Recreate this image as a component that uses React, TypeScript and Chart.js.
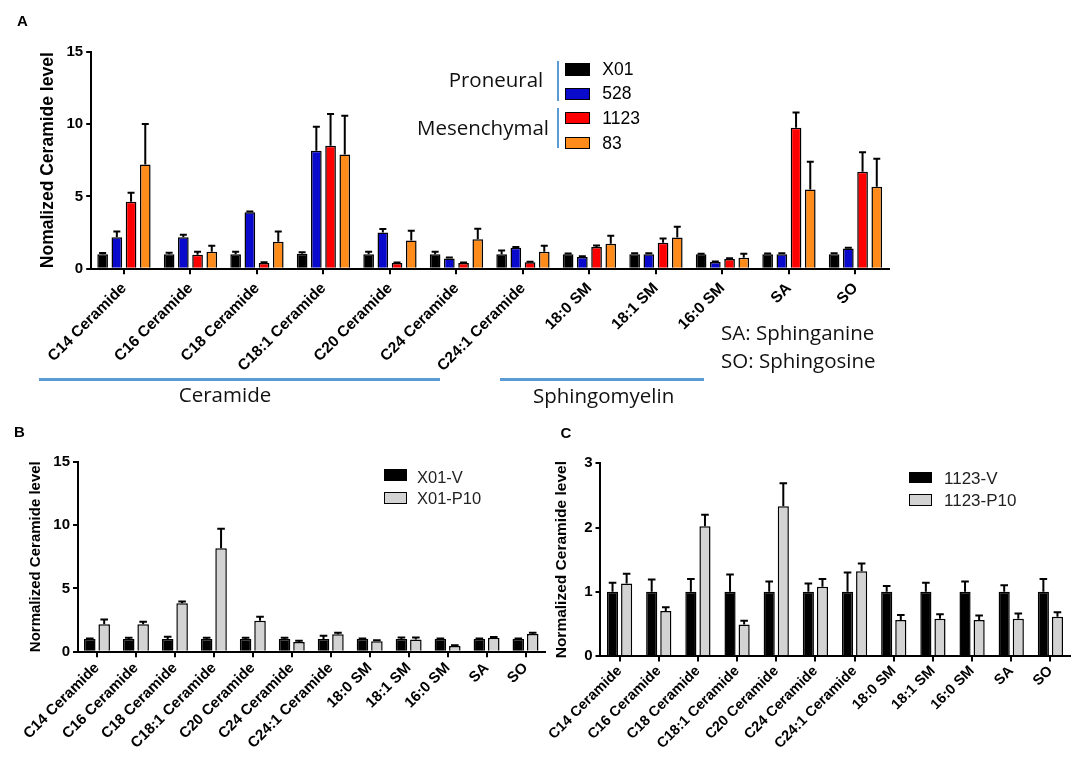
import React, { useEffect, useRef } from 'react';
import Chart from 'chart.js/auto';

// ---------- data ----------
const categories = [
  'C14 Ceramide', 'C16 Ceramide', 'C18 Ceramide', 'C18:1 Ceramide', 'C20 Ceramide',
  'C24 Ceramide', 'C24:1 Ceramide', '18:0 SM', '18:1 SM', '16:0 SM', 'SA', 'SO',
];

// Panel A
const seriesA = ['X01', '528', '1123', '83'];
const colorsA = ['#000000', '#0a0acc', '#ff0000', '#ff8c1a'];
const x01 = [1.0, 1.0, 1.0, 1.03, 1.0, 1.0, 1.0, 1.0, 1.0, 1.0, 1.0, 1.0];
const x01Err = [0.08, 0.1, 0.17, 0.1, 0.18, 0.17, 0.26, 0.05, 0.06, 0.03, 0.05, 0.06];
const s528 = [2.17, 2.17, 3.9, 8.16, 2.5, 0.71, 1.45, 0.81, 1.0, 0.46, 1.0, 1.4];
const s528Err = [0.4, 0.18, 0.05, 1.65, 0.25, 0.06, 0.05, 0.05, 0.06, 0.04, 0.06, 0.05];
const s1123 = [4.63, 0.97, 0.4, 8.5, 0.39, 0.39, 0.44, 1.5, 1.8, 0.67, 9.75, 6.7];
const s1123Err = [0.62, 0.2, 0.04, 2.2, 0.03, 0.03, 0.04, 0.1, 0.28, 0.05, 1.05, 1.35];
const s83 = [7.2, 1.18, 1.87, 7.9, 1.95, 2.03, 1.18, 1.73, 2.15, 0.76, 5.47, 5.67];
const s83Err = [2.8, 0.4, 0.7, 2.67, 0.68, 0.73, 0.41, 0.55, 0.75, 0.28, 1.93, 1.93];

// Panel B
const seriesB = ['X01-V', 'X01-P10'];
const x01V = [1.0, 1.0, 1.0, 1.0, 1.0, 1.0, 1.0, 1.0, 1.0, 1.0, 1.0, 1.0];
const x01VErr = [0.05, 0.1, 0.18, 0.1, 0.1, 0.1, 0.25, 0.05, 0.12, 0.05, 0.05, 0.05];
const x01P10 = [2.16, 2.16, 3.82, 8.16, 2.45, 0.76, 1.37, 0.82, 0.97, 0.45, 1.1, 1.4];
const x01P10Err = [0.39, 0.21, 0.15, 1.55, 0.31, 0.1, 0.13, 0.08, 0.16, 0.05, 0.07, 0.1];

// Panel C
const seriesC = ['1123-V', '1123-P10'];
const v1123 = [1.0, 1.0, 1.0, 1.0, 1.0, 1.0, 1.0, 1.0, 1.0, 1.0, 1.0, 1.0];
const v1123Err = [0.14, 0.19, 0.2, 0.27, 0.16, 0.13, 0.3, 0.09, 0.14, 0.16, 0.1, 0.2];
const p1123 = [1.13, 0.7, 2.02, 0.49, 2.33, 1.08, 1.32, 0.56, 0.58, 0.56, 0.58, 0.61];
const p1123Err = [0.15, 0.06, 0.18, 0.06, 0.36, 0.12, 0.12, 0.08, 0.07, 0.07, 0.08, 0.07];
const colorsBC = ['#000000', '#d3d3d3'];

const yTicksA = [0, 5, 10, 15];
const yTicksB = [0, 5, 10, 15];
const yTicksC = [0, 1, 2, 3];

const ARIAL = '"Liberation Sans", Arial, sans-serif';
const CAL = '"Open Sans", sans-serif';

// ---------- error bar plugin ----------
const errorBarPlugin = {
  id: 'errorBars',
  afterDatasetsDraw(chart: any) {
    const ctx = chart.ctx;
    const yScale = chart.scales.y;
    const cap = chart.options.plugins.errorBars?.cap ?? 3.5;
    chart.data.datasets.forEach((ds: any, di: number) => {
      const errs = ds.errors;
      if (!errs) return;
      const meta = chart.getDatasetMeta(di);
      meta.data.forEach((el: any, i: number) => {
        const v = ds.data[i];
        const top = yScale.getPixelForValue(v + errs[i]);
        ctx.save();
        ctx.strokeStyle = '#000';
        ctx.lineWidth = 2;
        ctx.beginPath();
        ctx.moveTo(el.x, el.y);
        ctx.lineTo(el.x, top);
        ctx.moveTo(el.x - cap, top);
        ctx.lineTo(el.x + cap, top);
        ctx.stroke();
        ctx.restore();
      });
    });
  },
};

type Area = { left: number; top: number; right: number; bottom: number };

type PanelProps = {
  left: number;
  top: number;
  width: number;
  height: number;
  area: Area;
  names: string[];
  colors: string[];
  values: number[][];
  errors: number[][];
  yTicks: number[];
  yTitle: string;
  titleSize: number;
  titleCenterX: number;
  xFont: number;
  xPad: number;
  yFont: number;
  catPct: number;
  barPct: number;
  cap: number;
};

function BarPanel(p: PanelProps) {
  const ref = useRef<HTMLCanvasElement>(null);
  useEffect(() => {
    const canvas = ref.current!;
    const yMax = p.yTicks[p.yTicks.length - 1];
    const step = p.yTicks[1] - p.yTicks[0];
    const lh = p.titleSize * 1.2;
    const chart = new Chart(canvas, {
      type: 'bar',
      data: {
        labels: categories,
        datasets: p.names.map((n, i) => ({
          label: n,
          data: p.values[i],
          errors: p.errors[i],
          backgroundColor: p.colors[i],
          borderColor: '#000',
          borderWidth: 1.5,
          categoryPercentage: p.catPct,
          barPercentage: p.barPct,
        })) as any,
      },
      options: {
        animation: false,
        responsive: false,
        devicePixelRatio: 1,
        layout: {
          padding: { left: 0, top: p.area.top, right: p.width - p.area.right, bottom: 0 },
        },
        plugins: {
          legend: { display: false },
          tooltip: { enabled: false },
          errorBars: { cap: p.cap },
        } as any,
        scales: {
          x: {
            type: 'category',
            offset: true,
            grid: {
              display: true,
              drawOnChartArea: false,
              drawTicks: true,
              tickLength: 5.5,
              tickWidth: 2,
              tickColor: '#000',
              color: '#000',
              lineWidth: 2,
              offset: false,
            },
            border: { display: true, color: '#000', width: 2 },
            ticks: {
              autoSkip: false,
              maxRotation: 45,
              minRotation: 45,
              padding: p.xPad,
              color: '#000',
              font: { family: ARIAL, weight: 'bold', size: p.xFont },
            },
            afterFit: (s: any) => {
              s.height = p.height - p.area.bottom;
            },
          },
          y: {
            min: 0,
            max: yMax,
            grid: {
              display: true,
              drawOnChartArea: false,
              drawTicks: true,
              tickLength: 4.5,
              tickWidth: 2,
              tickColor: '#000',
              color: '#000',
              lineWidth: 2,
            },
            border: { display: true, color: '#000', width: 2 },
            ticks: {
              stepSize: step,
              padding: 3,
              color: '#000',
              font: { family: ARIAL, weight: 'bold', size: p.yFont },
            },
            title: {
              display: true,
              text: p.yTitle,
              color: '#000',
              font: { family: ARIAL, weight: 'bold', size: p.titleSize, lineHeight: 1.2 },
              padding: { top: p.titleCenterX - lh / 2, bottom: 0 },
            },
            afterFit: (s: any) => {
              s.width = p.area.left;
            },
          },
        },
      } as any,
      plugins: [errorBarPlugin],
    });
    return () => chart.destroy();
  }, []);
  return (
    <canvas
      ref={ref}
      width={p.width}
      height={p.height}
      style={{ position: 'absolute', left: p.left, top: p.top, width: p.width, height: p.height }}
    />
  );
}

// text positioned by its cap-height centre
function Txt(props: {
  x: number;
  y: number;
  size: number;
  family?: string;
  bold?: boolean;
  align?: 'left' | 'right' | 'center';
  color?: string;
  children: React.ReactNode;
}) {
  const fam = props.family ?? ARIAL;
  const k = fam === CAL ? 0.531 : 0.4885;
  const tx = props.align === 'right' ? 'translateX(-100%)' : props.align === 'center' ? 'translateX(-50%)' : 'none';
  return (
    <div
      style={{
        position: 'absolute',
        left: props.x,
        top: props.y - k * props.size,
        fontSize: props.size,
        lineHeight: 1,
        fontFamily: fam,
        fontWeight: props.bold ? 'bold' : 'normal',
        color: props.color ?? '#000',
        whiteSpace: 'nowrap',
        transform: tx,
      }}
    >
      {props.children}
    </div>
  );
}

function Box(props: { x: number; y: number; w: number; h: number; color: string }) {
  return (
    <div
      style={{
        position: 'absolute',
        left: props.x,
        top: props.y,
        width: props.w,
        height: props.h,
        background: props.color,
        border: '1.5px solid #000',
        boxSizing: 'border-box',
      }}
    />
  );
}

const BLUE_LINE = '#5b9bd5';

export default function App() {
  const legendRowsA = [69.7, 94, 118.3, 143.3];
  return (
    <div
      style={{
        position: 'absolute',
        left: 0,
        top: 0,
        width: 1073,
        height: 764,
        background: '#fff',
        overflow: 'hidden',
      }}
    >
      <BarPanel
        left={0}
        top={0}
        width={900}
        height={390}
        area={{ left: 90.7, top: 51.7, right: 888.7, bottom: 268.7 }}
        names={seriesA}
        colors={colorsA}
        values={[x01, s528, s1123, s83]}
        errors={[x01Err, s528Err, s1123Err, s83Err]}
        yTicks={yTicksA}
        yTitle="Nomalized Ceramide level"
        titleSize={17.5}
        titleCenterX={48.3}
        xFont={15.5}
        xPad={5}
        yFont={15}
        catPct={0.855}
        barPct={0.75}
        cap={3.5}
      />
      <BarPanel
        left={0}
        top={420}
        width={560}
        height={344}
        area={{ left: 77.5, top: 41.7, right: 545, bottom: 231.7 }}
        names={seriesB}
        colors={colorsBC}
        values={[x01V, x01P10]}
        errors={[x01VErr, x01P10Err]}
        yTicks={yTicksB}
        yTitle="Normalized Ceramide level"
        titleSize={15}
        titleCenterX={35.7}
        xFont={15}
        xPad={2}
        yFont={15}
        catPct={0.74}
        barPct={0.8}
        cap={3.8}
      />
      <BarPanel
        left={530}
        top={420}
        width={543}
        height={344}
        area={{ left: 70, top: 43.3, right: 540, bottom: 236 }}
        names={seriesC}
        colors={colorsBC}
        values={[v1123, p1123]}
        errors={[v1123Err, p1123Err]}
        yTicks={yTicksC}
        yTitle="Normalized Ceramide level"
        titleSize={15.5}
        titleCenterX={31.7}
        xFont={14.5}
        xPad={1}
        yFont={15}
        catPct={0.72}
        barPct={0.79}
        cap={3.8}
      />

      {/* panel letters */}
      <Txt x={17} y={20.3} size={15} bold>A</Txt>
      <Txt x={14} y={431.5} size={15} bold>B</Txt>
      <Txt x={560.5} y={432} size={15} bold>C</Txt>

      {/* Panel A legend */}
      <Txt x={543.3} y={80.3} size={20.5} family={CAL} align="right" color="#111">Proneural</Txt>
      <Txt x={549} y={127.5} size={20.5} family={CAL} align="right" color="#111">Mesenchymal</Txt>
      <div style={{ position: 'absolute', left: 556.5, top: 61, width: 2.5, height: 40, background: BLUE_LINE }} />
      <div style={{ position: 'absolute', left: 556.5, top: 107.7, width: 2.5, height: 40.6, background: BLUE_LINE }} />
      {seriesA.map((n, i) => (
        <React.Fragment key={n}>
          <Box x={565} y={legendRowsA[i] - 6.5} w={25} h={12.5} color={colorsA[i]} />
          <Txt x={602.3} y={legendRowsA[i]} size={17.5}>{n}</Txt>
        </React.Fragment>
      ))}

      {/* group annotations */}
      <div style={{ position: 'absolute', left: 39, top: 377.5, width: 401, height: 3, background: BLUE_LINE }} />
      <div style={{ position: 'absolute', left: 500, top: 377.5, width: 204, height: 3, background: BLUE_LINE }} />
      <Txt x={225} y={395} size={20.5} family={CAL} align="center" color="#111">Ceramide</Txt>
      <Txt x={533} y={395.5} size={20.5} family={CAL} color="#111">Sphingomyelin</Txt>
      <Txt x={721} y={332.5} size={20.5} family={CAL} color="#111">SA: Sphinganine</Txt>
      <Txt x={721} y={360.8} size={20.5} family={CAL} color="#111">SO: Sphingosine</Txt>

      {/* Panel B legend */}
      {seriesB.map((n, i) => (
        <React.Fragment key={n}>
          <Box x={384} y={[469.3, 492][i]} w={23} h={12} color={colorsBC[i]} />
          <Txt x={417} y={[476.7, 498.3][i]} size={16.5} color="#222">{n}</Txt>
        </React.Fragment>
      ))}

      {/* Panel C legend */}
      {seriesC.map((n, i) => (
        <React.Fragment key={n}>
          <Box x={909} y={[471.7, 494][i]} w={23} h={11.5} color={colorsBC[i]} />
          <Txt x={944} y={[478.8, 500.8][i]} size={17} color="#222">{n}</Txt>
        </React.Fragment>
      ))}
    </div>
  );
}
